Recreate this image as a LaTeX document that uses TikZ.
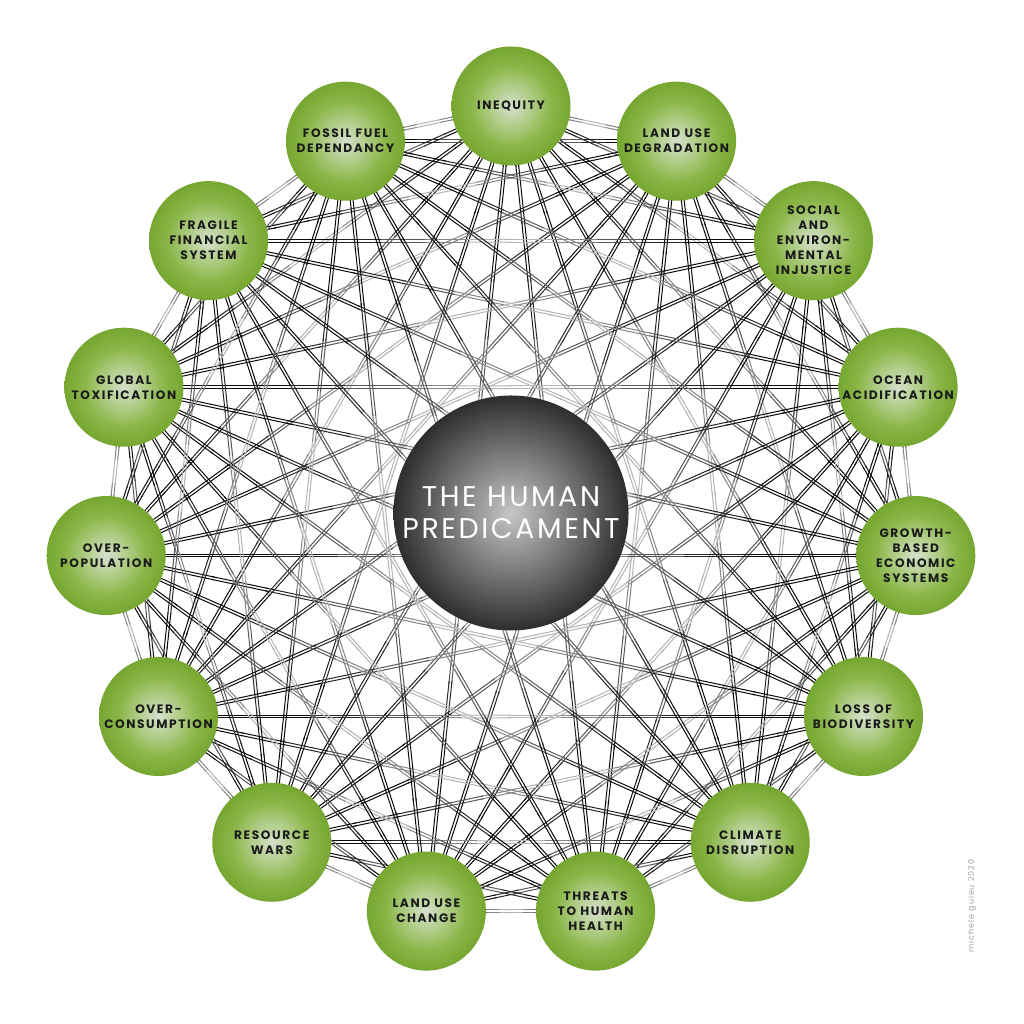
\documentclass[tikz,border=0pt]{standalone}
\usepackage{fontspec}
\setmainfont{Poppins}
\newfontfamily\labfont{Poppins}[LetterSpace=13]
\newfontfamily\ctrfont{Poppins}[LetterSpace=9]
\newfontfamily\wmfont{Poppins}[LetterSpace=12]
\usetikzlibrary{calc}
\definecolor{gc0}{HTML}{D6E0CC}
\definecolor{gc1}{HTML}{AECC84}
\definecolor{gc2}{HTML}{8AB648}
\definecolor{gc3}{HTML}{76A731}
\definecolor{dc0}{HTML}{C6C6C6}
\definecolor{dc1}{HTML}{2E2E2E}
\definecolor{labtext}{HTML}{1A1A1A}
\definecolor{wmgray}{HTML}{A0A0A0}
\pgfdeclareradialshading{greenball}{\pgfpoint{0bp}{0bp}}{color(0bp)=(gc0); color(9bp)=(gc1); color(17bp)=(gc2); color(25bp)=(gc3); color(50bp)=(gc3)}
\pgfdeclareradialshading{darkball}{\pgfpoint{0bp}{0bp}}{color(0bp)=(dc0); color(25bp)=(dc1); color(50bp)=(dc1)}
\pgfdeclarelayer{back}
\pgfdeclarelayer{bg}
\pgfsetlayers{back,bg,main}
\tikzset{
  topic/.style={circle, minimum size=119pt, inner sep=0pt, shading=greenball, align=center,
    font=\labfont\bfseries\fontsize{12.2}{15}\selectfont, text=labtext},
  core/.style={circle, minimum size=235pt, inner sep=0pt, shading=darkball, align=center,
    font=\ctrfont\fontsize{28.5}{32}\selectfont, text=white},
  link/.style={line width=1pt},
  wmark/.style={font=\wmfont\fontsize{8}{9}\selectfont, text=wmgray, rotate=90}
}
\begin{document}
\begin{tikzpicture}[x=1pt,y=1pt]
\begin{pgfonlayer}{back}
\useasboundingbox[fill=white] (0,0) rectangle (1024,1024);
\end{pgfonlayer}
\coordinate (O) at (511,511);
\node[topic] (n0)  at ($(O)+(90:407)$)  {INEQUITY};
\node[topic] (n1)  at ($(O)+(66:407)$)  {LAND USE\\DEGRADATION};
\node[topic] (n2)  at ($(O)+(42:407)$)  {SOCIAL\\AND\\ENVIRON-\\MENTAL\\INJUSTICE};
\node[topic] (n3)  at ($(O)+(18:407)$)  {OCEAN\\ACIDIFICATION};
\node[topic] (n4)  at ($(O)+(-6:407)$)  {GROWTH-\\BASED\\ECONOMIC\\SYSTEMS};
\node[topic] (n5)  at ($(O)+(-30:407)$) {LOSS OF\\BIODIVERSITY};
\node[topic] (n6)  at ($(O)+(-54:407)$) {CLIMATE\\DISRUPTION};
\node[topic] (n7)  at ($(O)+(-78:407)$) {THREATS\\TO HUMAN\\HEALTH};
\node[topic] (n8)  at ($(O)+(-102:407)$) {LAND USE\\CHANGE};
\node[topic] (n9)  at ($(O)+(-126:407)$) {RESOURCE\\WARS};
\node[topic] (n10) at ($(O)+(-150:407)$) {OVER-\\CONSUMPTION};
\node[topic] (n11) at ($(O)+(-174:407)$) {OVER-\\POPULATION};
\node[topic] (n12) at ($(O)+(162:407)$) {GLOBAL\\TOXIFICATION};
\node[topic] (n13) at ($(O)+(138:407)$) {FRAGILE\\FINANCIAL\\SYSTEM};
\node[topic] (n14) at ($(O)+(114:407)$) {FOSSIL FUEL\\DEPENDANCY};
\node[core] (hub) at (O) {THE HUMAN\\PREDICAMENT};
\node[wmark] (wm) at (972,118) {michele guieu 2020};
\begin{pgfonlayer}{bg}
\foreach \i in {0,...,13}{
  \pgfmathtruncatemacro\js{\i+1}
  \foreach \j in {\js,...,14}{
    \pgfmathsetmacro\mang{90-12*(\i+\j)}
    \foreach \sg in {1,-1}{
      \pgfmathsetmacro\ox{\sg*1.4*cos(\mang)}
      \pgfmathsetmacro\oy{\sg*1.4*sin(\mang)}
      \coordinate (p) at ([shift={(\ox,\oy)}]n\i.center);
      \coordinate (q) at ([shift={(\ox,\oy)}]n\j.center);
      \foreach \s in {1,...,14}{
        \pgfmathsetmacro\ta{(\s-1)/14}
        \pgfmathsetmacro\tb{min(1,\s/14+0.004)}
        \pgfmathsetmacro\uu{1-abs((2*\s-1)/14-1)}
        \pgfmathtruncatemacro\dd{96-76*max(0,(\uu-0.42)/0.58)}
        \draw[link, black!\dd] ($(p)!\ta!(q)$) -- ($(p)!\tb!(q)$);
      }
    }
  }
}
\end{pgfonlayer}
\end{tikzpicture}
\end{document}
